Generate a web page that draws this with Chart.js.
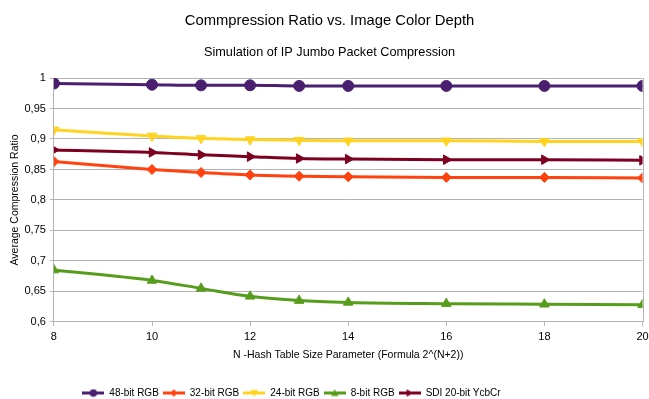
<!DOCTYPE html>
<html><head><meta charset="utf-8">
<script src="https://cdn.jsdelivr.net/npm/chart.js@4"></script>
<style>html,body{margin:0;padding:0;background:#fff}#wrap{width:649px;height:399px}</style>
</head><body><div id="wrap"><canvas id="c"></canvas></div>
<script>
const xValues = [8, 10, 11, 12, 13, 14, 16, 18, 20];
const rgb48 = [0.991, 0.989, 0.988, 0.988, 0.987, 0.987, 0.987, 0.987, 0.987];
const rgb32 = [0.863, 0.850, 0.845, 0.841, 0.839, 0.838, 0.837, 0.837, 0.836];
const rgb24 = [0.915, 0.905, 0.901, 0.899, 0.898, 0.897, 0.897, 0.896, 0.896];
const rgb8  = [0.685, 0.668, 0.655, 0.642, 0.635, 0.632, 0.630, 0.629, 0.628];
const sdi20 = [0.882, 0.878, 0.874, 0.871, 0.868, 0.867, 0.866, 0.866, 0.865];
const seriesNames = ['48-bit RGB', '32-bit RGB', '24-bit RGB', '8-bit RGB', 'SDI 20-bit YcbCr'];
const seriesColors = ['#4b1f6f', '#ff420e', '#ffd320', '#579d1c', '#7e0021'];
const seriesStyles = ['circle', 'rectRot', 'triangle', 'triangle', 'triangle'];
const seriesRot = [0, 0, 180, 0, 90];
const seriesData = [rgb48, rgb32, rgb24, rgb8, sdi20];

const FONT = "'Liberation Sans', Arial, sans-serif";

function legendIcon(i) {
  const cv = document.createElement('canvas');
  cv.width = 22; cv.height = 9;
  const g = cv.getContext('2d');
  g.strokeStyle = seriesColors[i]; g.lineWidth = 3;
  g.beginPath(); g.moveTo(0, 4.5); g.lineTo(22, 4.5); g.stroke();
  g.fillStyle = seriesColors[i];
  g.save(); g.translate(11, 4.5); g.rotate(seriesRot[i] * Math.PI / 180);
  g.beginPath();
  const r = 3.8;
  if (seriesStyles[i] === 'circle') g.arc(0, 0, r, 0, Math.PI * 2);
  else if (seriesStyles[i] === 'rectRot') { g.moveTo(0, -r); g.lineTo(r, 0); g.lineTo(0, r); g.lineTo(-r, 0); }
  else { g.moveTo(0, -r); g.lineTo(r, r * 0.8); g.lineTo(-r, r * 0.8); }
  g.closePath(); g.fill(); g.restore();
  return cv;
}

const datasets = seriesData.map((arr, i) => ({
  label: seriesNames[i],
  data: arr.map((v, k) => ({x: xValues[k], y: v})),
  borderColor: seriesColors[i],
  backgroundColor: seriesColors[i],
  borderWidth: 3,
  pointStyle: seriesStyles[i],
  pointRotation: seriesRot[i],
  pointRadius: i === 1 ? 5 : 5.5,
  pointBorderWidth: 1,
  cubicInterpolationMode: 'monotone'
}));

new Chart(document.getElementById('c'), {
  type: 'line',
  data: {datasets},
  options: {
    responsive: true, maintainAspectRatio: false, animation: false,
    layout: {padding: {left: 10, right: 0, top: 1, bottom: -9}},
    plugins: {
      title: {display: true, text: 'Commpression Ratio vs. Image Color Depth', color: '#000',
        font: {family: FONT, size: 14.8, weight: 'normal'}, padding: {top: 11, bottom: 15}},
      subtitle: {display: true, text: 'Simulation of IP Jumbo Packet Compression', color: '#000',
        font: {family: FONT, size: 12.7, weight: 'normal'}, padding: {top: 0, bottom: 18}},
      legend: {position: 'bottom',
        labels: {color: '#000', font: {family: FONT, size: 10}, usePointStyle: true, pointStyleWidth: 22, boxHeight: 9, padding: 4,
          generateLabels: (chart) => seriesNames.map((n, i) => ({
            text: n, pointStyle: legendIcon(i), fillStyle: seriesColors[i], strokeStyle: seriesColors[i],
            lineWidth: 0, datasetIndex: i, hidden: false, fontColor: '#000'
          }))}},
      tooltip: {enabled: false}
    },
    scales: {
      x: {type: 'linear', min: 8, max: 20,
        afterFit: (scale) => { scale.paddingRight = 6; },
        ticks: {stepSize: 2, color: '#000', font: {family: FONT, size: 11, lineHeight: 1}, padding: 6},
        grid: {display: true, drawOnChartArea: false, color: '#b3b3b3', tickLength: 4},
        border: {color: '#b3b3b3'},
        title: {display: true, text: 'N -Hash Table Size Parameter (Formula 2^(N+2))', color: '#000',
          font: {family: FONT, size: 10.5, lineHeight: 1.15}, padding: {top: 0, bottom: 23}}},
      y: {min: 0.6, max: 1,
        ticks: {stepSize: 0.05, color: '#000', font: {family: FONT, size: 11}, padding: 4,
          callback: (v) => String(Math.round(v * 100) / 100).replace('.', ',')},
        grid: {color: '#b3b3b3', drawTicks: true, tickLength: 4},
        border: {color: '#b3b3b3'},
        title: {display: true, text: 'Average Compression Ratio', color: '#000',
          font: {family: FONT, size: 10.5, lineHeight: 1}, padding: {top: 0, bottom: 0}}}
    }
  },
  plugins: [{
    id: 'shiftLegend',
    afterLayout(chart) {
      if (chart.legend) chart.legend.right -= 76;
    }
  }, {
    id: 'rightBorder',
    afterDraw(chart) {
      const {ctx, chartArea: a} = chart;
      ctx.save(); ctx.strokeStyle = '#b3b3b3'; ctx.lineWidth = 1;
      ctx.beginPath(); ctx.moveTo(Math.round(a.right) + 0.5, a.top); ctx.lineTo(Math.round(a.right) + 0.5, a.bottom); ctx.stroke();
      ctx.restore();
    }
  }]
});
</script></body></html>
